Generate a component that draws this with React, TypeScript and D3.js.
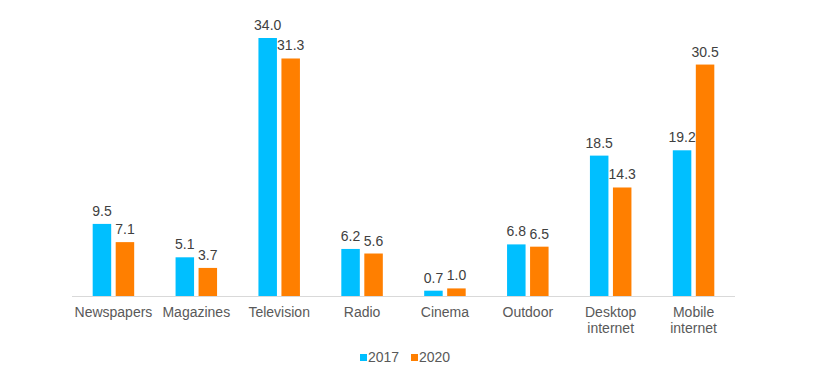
import React from "react";
import * as d3 from "d3";

const categories = ["Newspapers", "Magazines", "Television", "Radio", "Cinema", "Outdoor", "Desktop internet", "Mobile internet"];
const categoryLines = [["Newspapers"], ["Magazines"], ["Television"], ["Radio"], ["Cinema"], ["Outdoor"], ["Desktop", "internet"], ["Mobile", "internet"]];
const values2017 = [9.5, 5.1, 34.0, 6.2, 0.7, 6.8, 18.5, 19.2];
const values2020 = [7.1, 3.7, 31.3, 5.6, 1.0, 6.5, 14.3, 30.5];
const seriesNames = ["2017", "2020"];
const colors = ["#00BFFF", "#FF7F00"];

const W = 815;
const H = 378;

export default function App() {
  const x = d3.scaleBand<string>().domain(categories).range([72, 735]);
  const y = d3.scaleLinear().domain([0, 34]).range([296, 38]);
  const barW = 18.5;
  const gap = 4.5;
  const series = [values2017, values2020];

  return (
    <svg width={W} height={H} style={{ position: "absolute", left: 0, top: 0, background: "#fff" }}
      fontFamily="Liberation Sans, Arial, sans-serif">
      <line x1={72} x2={735} y1={y(0) + 0.5} y2={y(0) + 0.5} stroke="#d9d9d9" strokeWidth={1.2} />
      {categories.map((c, i) => {
        const cx = (x(c) as number) + x.bandwidth() / 2;
        return (
          <g key={c}>
            {series.map((vals, s) => {
              const bx = s === 0 ? cx - gap / 2 - barW : cx + gap / 2;
              const v = vals[i];
              return (
                <g key={s}>
                  <rect x={bx} y={y(v)} width={barW} height={y(0) - y(v)} fill={colors[s]} />
                  <text x={bx + barW / 2} y={y(v) - 8} textAnchor="middle" fontSize={14} fill="#404040">
                    {v.toFixed(1)}
                  </text>
                </g>
              );
            })}
            {categoryLines[i].map((ln, k) => (
              <text key={k} x={cx} y={317 + k * 16} textAnchor="middle" fontSize={14} fill="#595959">{ln}</text>
            ))}
          </g>
        );
      })}
      {seriesNames.map((n, s) => (
        <g key={n} transform={`translate(${360 + s * 51},0)`}>
          <rect x={0} y={354} width={7} height={7} fill={colors[s]} />
          <text x={8} y={362} fontSize={14} fill="#595959">{n}</text>
        </g>
      ))}
    </svg>
  );
}
